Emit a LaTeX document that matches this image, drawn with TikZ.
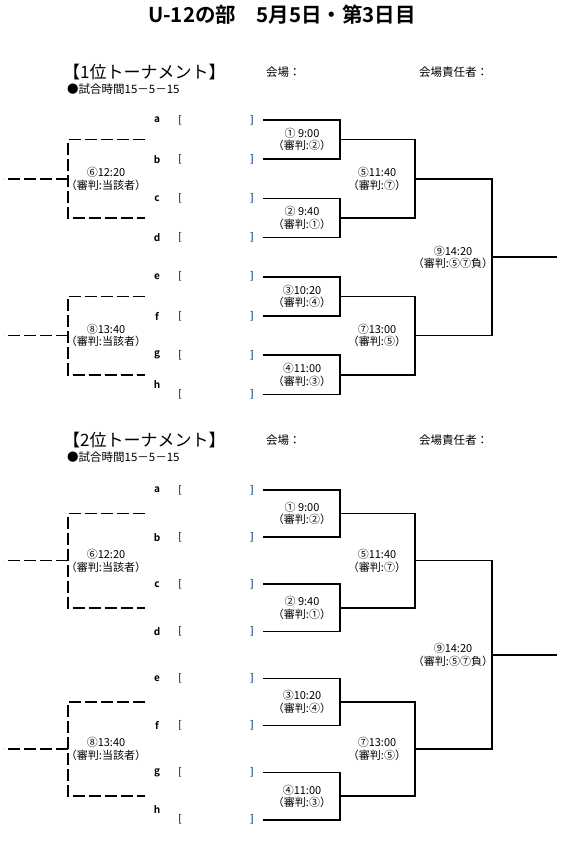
\documentclass[tikz,border=0pt]{standalone}
\usepackage{fontspec}
\setmainfont{Noto Sans CJK JP}[BoldFont={Noto Sans CJK JP Bold}]
\usepackage{tikz}
\usetikzlibrary{positioning,calc}
\definecolor{slotblue}{HTML}{1F4E96}
\tikzset{
  wire/.style={line width=1.6pt},
  dwire/.style={line width=1.6pt, dash pattern=on 12pt off 4pt},
  gamelbl/.style={align=center, inner sep=0pt, font=\fontsize{11}{12.5}\selectfont},
  seed/.style={inner sep=0pt, font=\fontsize{10}{10}\selectfont\bfseries},
  slot/.style={inner sep=0pt, text=slotblue, font=\fontsize{10}{10}\selectfont\bfseries},
  head/.style={inner sep=0pt, anchor=west, font=\fontsize{17}{17}\selectfont},
  venue/.style={inner sep=0pt, anchor=west, font=\fontsize{11.5}{11.5}\selectfont},
}

\begin{document}
\begin{tikzpicture}[x=1pt, y=-1pt]
  \useasboundingbox (0,0) rectangle (578,843);
  \node[font=\fontsize{20.5}{20.5}\selectfont\bfseries] (title) at (282,15) {U-12の部　5月5日・第3日目};

  \foreach \rank/\top/\yy/\sp in {1/72/120/39.2, 2/440/490/47.1} {
    % headings
    \node[head] (head\rank) at (63,\top) {【\rank 位トーナメント】};
    \node[venue] (venue\rank) at (266,\top) {会場：};
    \node[venue] (chief\rank) at (419,\top) {会場責任者：};
    \node[venue] (rule\rank) at (67,{\top+17}) {●試合時間15－5－15};

    % team slots
    \foreach \t/\dy [count=\i from 0] in {a/0,b/0,c/0,d/0,e/0,f/0,g/0,h/-10} {
      \coordinate (s\rank\t) at (263,{\yy+\i*\sp});
      \coordinate (m\rank\t) at (340,{\yy+\i*\sp});
      \node[seed] (seed\rank\t) at (157,{\yy+\i*\sp+\dy}) {\t};
      \node[slot] (open\rank\t) at (180,{\yy+\i*\sp}) {[};
      \node[slot] (close\rank\t) at (252,{\yy+\i*\sp}) {]};
    }

    % first round
    \foreach \g/\p/\q/\txt/\ref in {1/a/b/{① 9:00}/②, 2/c/d/{② 9:40}/①, 3/e/f/③10:20/④, 4/g/h/④11:00/③} {
      \coordinate (g\rank-\g) at ($(m\rank\p)!0.5!(m\rank\q)$);
      \draw[wire] (s\rank\p) -| (g\rank-\g) |- (s\rank\q);
      \node[gamelbl] (lbl\rank-\g) at ($(g\rank-\g)+(-38,0)$) {\txt\\（審判:\ref）};
    }

    % second round
    \coordinate (g\rank-5) at ($(g\rank-1)!0.5!(g\rank-2)+(75,0)$);
    \coordinate (g\rank-7) at ($(g\rank-3)!0.5!(g\rank-4)+(75,0)$);
    \draw[wire] (g\rank-1) -| (g\rank-5) |- (g\rank-2);
    \draw[wire] (g\rank-3) -| (g\rank-7) |- (g\rank-4);
    \node[gamelbl] (lbl\rank-5) at ($(g\rank-5)+(-38,0)$) {⑤11:40\\（審判:⑦）};
    \node[gamelbl] (lbl\rank-7) at ($(g\rank-7)+(-38,0)$) {⑦13:00\\（審判:⑤）};

    % final
    \coordinate (g\rank-9) at ($(g\rank-5)!0.5!(g\rank-7)+(77,0)$);
    \coordinate (win\rank) at ($(g\rank-9)+(65,0)$);
    \draw[wire] (g\rank-5) -| (g\rank-9) |- (g\rank-7);
    \draw[wire] (g\rank-9) -- (win\rank);
    \node[gamelbl] (lbl\rank-9) at ($(g\rank-9)+(-39,0)$) {⑨14:20\\（審判:⑤⑦負）};

    % placement games, dashed
    \foreach \g/\p/\q/\txt in {6/1/2/⑥12:20, 8/3/4/⑧13:40} {
      \coordinate (d\rank-\g) at ($(g\rank-\p)!0.5!(g\rank-\q)+(-272,0)$);
      \coordinate (t\rank-\g) at ($(g\rank-\p)+(-195,0)$);
      \coordinate (b\rank-\g) at ($(g\rank-\q)+(-195,0)$);
      \coordinate (o\rank-\g) at ($(d\rank-\g)+(-64,0)$);
      \draw[dwire] (t\rank-\g) -| (d\rank-\g) |- (b\rank-\g);
      \draw[dwire] (d\rank-\g) -- (o\rank-\g);
      \node[gamelbl] (lbl\rank-\g) at ($(d\rank-\g)+(38,0)$) {\txt\\（審判:当該者）};
    }
  }
\end{tikzpicture}
\end{document}
